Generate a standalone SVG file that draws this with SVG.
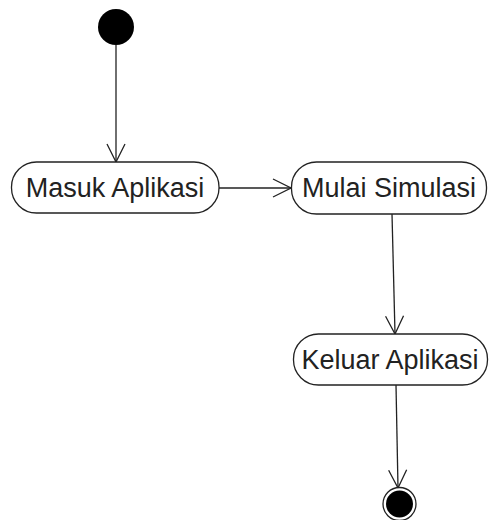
<svg xmlns="http://www.w3.org/2000/svg" width="490" height="520" viewBox="0 0 490 520">
<defs>
<marker id="open" viewBox="0 0 20 20" refX="19" refY="10" markerWidth="20" markerHeight="20" markerUnits="userSpaceOnUse" orient="auto">
<path d="M1,1 L19,10 L1,19" fill="none" stroke="#222" stroke-width="1.3"/>
</marker>
<style>
.act{fill:#fff;stroke:#222;stroke-width:1.3}
.lbl{font-family:"Liberation Sans",Arial,sans-serif;font-size:27px;fill:#222;text-anchor:middle}
.edge{stroke:#222;stroke-width:1.3;fill:none;marker-end:url(#open)}
</style>
</defs>
<rect width="490" height="520" fill="#fff"/>
<g id="connectors">
<line class="edge" x1="116" y1="45" x2="116" y2="162"/>
<line class="edge" x1="219" y1="188" x2="291" y2="188"/>
<line class="edge" x1="392" y1="214" x2="395" y2="334"/>
<line class="edge" x1="396" y1="385" x2="398" y2="488"/>
</g>
<g id="start">
<circle cx="116" cy="27" r="18" fill="#000"/>
</g>
<g id="masuk">
<rect class="act" x="11.5" y="162" width="207.5" height="51" rx="25" ry="25"/>
<text class="lbl" x="115" y="196.5">Masuk Aplikasi</text>
</g>
<g id="mulai">
<rect class="act" x="291.5" y="162" width="195" height="52" rx="25" ry="25"/>
<text class="lbl" x="389" y="196.5">Mulai Simulasi</text>
</g>
<g id="keluar">
<rect class="act" x="293.5" y="334" width="194" height="51" rx="25" ry="25"/>
<text class="lbl" x="390" y="368.5">Keluar Aplikasi</text>
</g>
<g id="end">
<circle cx="399.5" cy="504" r="16.5" fill="#fff" stroke="#222" stroke-width="1.3"/>
<circle cx="399.5" cy="504" r="13.5" fill="#000"/>
</g>
</svg>
